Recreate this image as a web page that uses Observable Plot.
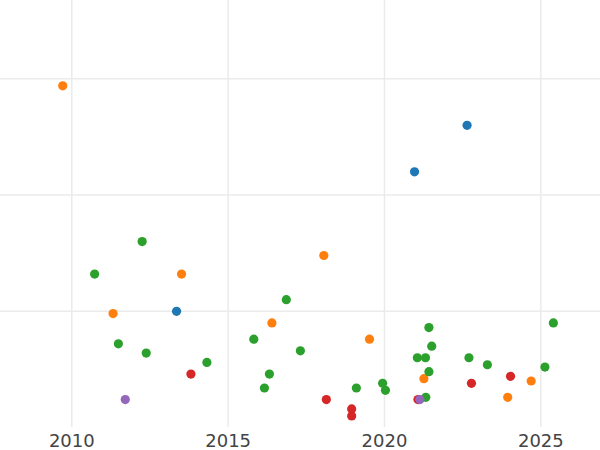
<!DOCTYPE html>
<html>
<head>
<meta charset="utf-8">
<script src="https://cdn.jsdelivr.net/npm/d3@7"></script>
<script src="https://cdn.jsdelivr.net/npm/@observablehq/plot@0.6"></script>
<style>
  html, body { margin: 0; padding: 0; background: #fff; }
  #chart svg { display: block; }
</style>
</head>
<body>
<div id="chart"></div>
<script>
const categories = ["A", "B", "C", "D", "E"];
const colors = ["#1f77b4", "#ff7f0e", "#2ca02c", "#d62728", "#9467bd"];
const xTicks = [2010, 2015, 2020, 2025];
const yTicks = [1, 2, 3];

const pointCategory = [
  "B","A","A","C","C","B","B","A","C","C","C","D","E",
  "C","B","C","C","C","C","B","B","C","C","C","C","C","B",
  "D","E","C","C","C","C","D","D","D","C","C","D","D","B","B","C","C"
];
const pointYear = [
  2009.71, 2022.64, 2020.96, 2012.25, 2010.73, 2013.51, 2011.32, 2013.35, 2011.49, 2012.38, 2014.32, 2013.81, 2011.71,
  2016.86, 2016.40, 2015.82, 2017.31, 2016.32, 2016.16, 2018.06, 2019.52, 2021.42, 2021.51, 2021.05, 2021.31, 2021.42, 2021.26,
  2021.07, 2021.13, 2021.32, 2019.10, 2019.94, 2020.03, 2018.14, 2018.95, 2018.95, 2022.70, 2023.29, 2022.78, 2024.03, 2023.94, 2024.69, 2025.13, 2025.40
];
const pointValue = [
  2.94, 2.60, 2.20, 1.60, 1.32, 1.32, 0.98, 1.00, 0.72, 0.64, 0.56, 0.46, 0.24,
  1.10, 0.90, 0.76, 0.66, 0.46, 0.34, 1.48, 0.76, 0.86, 0.70, 0.60, 0.60, 0.48, 0.42,
  0.24, 0.24, 0.26, 0.34, 0.38, 0.32, 0.24, 0.16, 0.10, 0.60, 0.54, 0.38, 0.44, 0.26, 0.40, 0.52, 0.90
];

const data = pointYear.map((x, i) => ({x, y: pointValue[i], c: pointCategory[i]}))
  .sort((a, b) => categories.indexOf(a.c) - categories.indexOf(b.c));

const chart = Plot.plot({
  width: 600,
  height: 450,
  marginLeft: 0,
  marginRight: 0,
  marginTop: 0,
  marginBottom: 23,
  style: {fontFamily: "DejaVu Sans", background: "#fff"},
  x: {domain: [2007.72, 2026.907], ticks: xTicks, tickFormat: d => String(d), label: null},
  y: {domain: [0, 3.674], ticks: yTicks, label: null},
  color: {domain: categories, range: colors},
  marks: [
    Plot.gridX(xTicks, {stroke: "#ebebeb", strokeOpacity: 1, strokeWidth: 1.5}),
    Plot.gridY(yTicks, {stroke: "#ebebeb", strokeOpacity: 1, strokeWidth: 1.5}),
    Plot.axisX(xTicks, {tickSize: 0, tickPadding: 7, fontSize: 18, fill: "#444", tickFormat: d => String(d), label: null}),
    Plot.axisY({ticks: [], label: null, tickSize: 0}),
    Plot.dot(data, {x: "x", y: "y", fill: "c", r: 4.6, stroke: "none"})
  ]
});
document.getElementById("chart").appendChild(chart);
</script>
</body>
</html>
